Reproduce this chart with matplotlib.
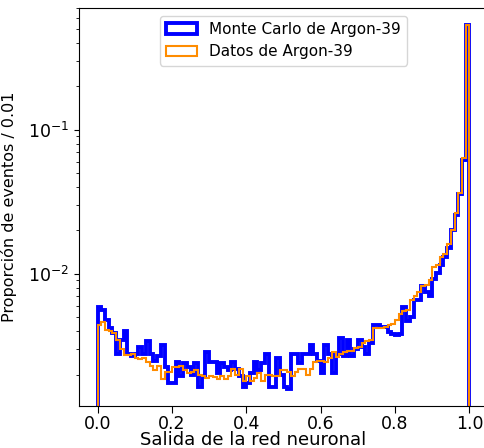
import numpy as np
import matplotlib
matplotlib.use("Agg")
import matplotlib.pyplot as plt

# fracción de eventos por bin (100 bins de ancho 0.01)
mc_argon = [
    5.9e-3, 5.6e-3, 4.8e-3, 4.2e-3, 3.9e-3, 2.8e-3, 3.5e-3, 4.0e-3, 2.8e-3, 2.7e-3,
    2.8e-3, 3.1e-3, 2.8e-3, 3.4e-3, 2.8e-3, 2.5e-3, 2.7e-3, 3.2e-3, 2.27e-3, 1.75e-3,
    1.74e-3, 2.45e-3, 1.95e-3, 2.4e-3, 2.27e-3, 2.0e-3, 2.4e-3, 1.65e-3, 1.95e-3, 2.85e-3,
    2.45e-3, 2.45e-3, 2.05e-3, 2.4e-3, 2.27e-3, 2.15e-3, 2.45e-3, 2.2e-3, 1.95e-3, 1.65e-3,
    1.75e-3, 2.05e-3, 2.45e-3, 2.15e-3, 2.4e-3, 2.8e-3, 1.65e-3, 1.65e-3, 2.6e-3, 2.0e-3,
    1.65e-3, 1.6e-3, 2.8e-3, 2.8e-3, 2.4e-3, 2.8e-3, 2.8e-3, 3.2e-3, 2.8e-3, 2.5e-3,
    2.05e-3, 3.2e-3, 2.8e-3, 2.05e-3, 2.8e-3, 3.6e-3, 2.7e-3, 3.45e-3, 2.7e-3, 3.0e-3,
    3.5e-3, 3.1e-3, 2.8e-3, 3.3e-3, 4.4e-3, 4.4e-3, 4.25e-3, 4.25e-3, 3.95e-3, 3.85e-3,
    3.75e-3, 3.8e-3, 5.9e-3, 4.7e-3, 5.05e-3, 6.6e-3, 6.6e-3, 8.2e-3, 7.5e-3, 7.0e-3,
    9.2e-3, 1.02e-2, 1.15e-2, 1.3e-2, 1.5e-2, 2.02e-2, 2.57e-2, 3.6e-2, 6.2e-2, 0.53,
]

datos_argon = [
    4.4e-3, 4.6e-3, 4.1e-3, 4.0e-3, 3.9e-3, 3.5e-3, 3.0e-3, 2.75e-3, 2.75e-3, 2.8e-3,
    2.6e-3, 2.55e-3, 2.6e-3, 2.45e-3, 2.3e-3, 2.15e-3, 2.3e-3, 1.85e-3, 2.1e-3, 2.1e-3,
    2.25e-3, 2.25e-3, 2.3e-3, 2.15e-3, 2.05e-3, 2.1e-3, 2.15e-3, 2.0e-3, 1.95e-3, 1.9e-3,
    1.95e-3, 1.93e-3, 1.85e-3, 1.95e-3, 1.85e-3, 1.95e-3, 2.2e-3, 2.0e-3, 2.2e-3, 1.8e-3,
    1.95e-3, 1.8e-3, 1.9e-3, 2.05e-3, 1.8e-3, 2.0e-3, 2.0e-3, 1.95e-3, 1.95e-3, 2.15e-3,
    2.15e-3, 2.1e-3, 1.95e-3, 2.1e-3, 2.2e-3, 2.2e-3, 2.0e-3, 2.2e-3, 2.45e-3, 2.5e-3,
    2.5e-3, 2.45e-3, 2.6e-3, 2.85e-3, 2.65e-3, 2.8e-3, 2.85e-3, 2.9e-3, 2.9e-3, 3.05e-3,
    3.1e-3, 3.3e-3, 3.4e-3, 3.5e-3, 4.2e-3, 4.2e-3, 4.2e-3, 4.3e-3, 4.4e-3, 4.5e-3,
    4.8e-3, 5.3e-3, 5.5e-3, 5.6e-3, 6.6e-3, 7.0e-3, 7.5e-3, 8.2e-3, 8.4e-3, 9.1e-3,
    1.11e-2, 1.15e-2, 1.3e-2, 1.37e-2, 1.6e-2, 2.03e-2, 2.65e-2, 3.65e-2, 6.4e-2, 0.53,
]

edges = np.linspace(0, 1, 101)
centros = 0.5 * (edges[:-1] + edges[1:])

fig = plt.figure(figsize=(4.84, 4.48), dpi=100)
ax = fig.add_axes([79 / 484, 42 / 448, 409 / 484, 398 / 448])

ax.hist(centros, bins=edges, weights=mc_argon, histtype="step",
        color="blue", linewidth=2.8, label="Monte Carlo de Argon-39")
ax.hist(centros, bins=edges, weights=datos_argon, histtype="step",
        color="darkorange", linewidth=1.5, label="Datos de Argon-39")

ax.set_yscale("log")
ax.set_xlim(-0.05, 1.05)
ax.set_ylim(1.21e-3, 0.70)
ax.set_xticks([0.0, 0.2, 0.4, 0.6, 0.8, 1.0])
ax.tick_params(axis="both", which="major", labelsize=12.5)
ax.tick_params(axis="x", which="major", length=5, pad=1.5)
ax.spines["right"].set_visible(False)

ax.set_xlabel("Salida de la red neuronal", fontsize=13)
ax.xaxis.set_label_coords((253 - 79) / 409, -0.064)
ax.set_ylabel("Proporción de eventos / 0.01", fontsize=11.5)
ax.yaxis.set_label_coords(-0.152, 0.5)
ax.legend(loc="upper center", fontsize=11)

fig.savefig("out.png", dpi=100)
